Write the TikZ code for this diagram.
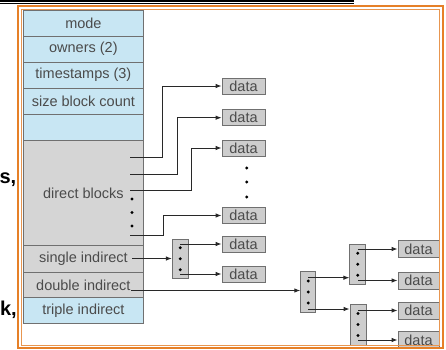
\documentclass[tikz,border=0pt]{standalone}
\usepackage{fontspec}
\setmainfont{Liberation Sans}
\usetikzlibrary{arrows.meta,calc}
\definecolor{frameor}{RGB}{230,128,40}
\definecolor{frameor2}{RGB}{232,150,80}
\definecolor{rowblue}{RGB}{200,230,243}
\definecolor{rowgray}{RGB}{213,213,213}
\definecolor{boxgray}{RGB}{205,205,205}
\definecolor{edgegray}{RGB}{112,112,112}
\definecolor{txtgray}{RGB}{75,75,75}
\definecolor{linegray}{RGB}{40,40,40}
\begin{document}
\begin{tikzpicture}[x=1pt,y=-1pt,
  row/.style={draw=edgegray, line width=0.8pt, minimum width=120pt, inner sep=0pt,
    text=txtgray, font=\fontsize{14.5}{16}\selectfont, anchor=north west},
  databox/.style={draw=edgegray, fill=boxgray, line width=0.8pt, minimum width=43pt,
    minimum height=16pt, inner sep=0pt, text=txtgray, font=\fontsize{14.5}{16}\selectfont},
  idx/.style={draw=edgegray, fill=boxgray, line width=0.8pt, minimum width=16pt,
    minimum height=40pt, inner sep=0pt},
  arr/.style={draw=linegray, line width=0.9pt, -{Latex[length=6pt,width=4.5pt]}},
  dotc/.style={fill=black},
  frag/.style={font=\fontsize{20}{24}\selectfont\bfseries, inner sep=0pt, text=black}]
\useasboundingbox (0,0) rectangle (446,349);
\clip (0,0) rectangle (446,349);
\fill[white] (0,0) rectangle (446,349);

% stray slide fragments
\draw[line width=1.5pt] (0,1) -- (354,1);
\draw[line width=0.8pt] (0,3.4) -- (354,3.4);
\node[frag, anchor=base east] (fs) at (16.5,183.5) {s,};
\node[frag, anchor=base east] (fk) at (17,315) {k,};

% inode table
\node[row, fill=rowblue, minimum height=26pt] (mode) at (23,9.5) {mode};
\node[row, fill=rowblue, minimum height=26pt] (owners) at (23,35.5) {owners (2)};
\node[row, fill=rowblue, minimum height=26pt] (times) at (23,61.5) {timestamps (3)};
\node[row, fill=rowblue, minimum height=26.5pt] (size) at (23,87.5) {size block count};
\node[row, fill=rowblue, minimum height=26pt] (empty) at (23,114) {};
\node[row, fill=rowgray, minimum height=105pt] (direct) at (23,140) {direct blocks};
\node[row, fill=rowgray, minimum height=27pt] (single) at (23,245) {single indirect};
\node[row, fill=rowgray, minimum height=25pt] (double) at (23,272) {double indirect};
\node[row, fill=rowblue, minimum height=26pt] (triple) at (23,297) {triple indirect};

% data blocks
\node[databox] (data1) at (243.5,86) {data};
\node[databox] (data2) at (243.5,117.7) {data};
\node[databox] (data3) at (243.5,148) {data};
\node[databox] (data4) at (243.5,215.5) {data};
\node[databox] (data5) at (243.5,244) {data};
\node[databox] (data6) at (243.5,274) {data};
\node[databox, minimum width=41pt, minimum height=17pt] (dA) at (418.5,249) {data};
\node[databox, minimum width=41pt, minimum height=17pt] (dB) at (418.5,280.5) {data};
\node[databox, minimum width=41pt, minimum height=17pt] (dC) at (418.5,310.5) {data};
\node[databox, minimum width=41pt, minimum height=17pt] (dD) at (418.5,340) {data};

% index blocks
\node[idx, minimum height=39pt] (ib1) at (180.3,258.7) {};
\node[idx, minimum width=15pt, minimum height=40.6pt] (ib2) at (308.2,292) {};
\node[idx] (ib3) at (357.8,264.2) {};
\node[idx, minimum height=41pt] (ib4) at (358,324.5) {};

% dots
\foreach \b in {ib1,ib2,ib3,ib4}{
  \foreach \d in {-11,0,11}{
    \fill[dotc] ($(\b.center)+(0,\d)$) circle (1.6pt);
  }
}
\foreach \yy in {199,212.5,226}{\fill[dotc] (132,\yy) circle (1.6pt);}
\foreach \yy in {168,182,197}{\fill[dotc] (246.7,\yy) circle (1.6pt);}

% direct block pointers
\coordinate (s1) at (130,157);
\coordinate (s2) at (130,174);
\coordinate (s3) at (130,190);
\coordinate (s4) at (130,235.7);
\draw[arr] (s1) -- ++(32.7,0) |- (data1.west);
\draw[arr] (s2) -- ++(47.3,0) |- (data2.west);
\draw[arr] (s3) -- ++(61.7,0) |- (data3.west);
\draw[arr] (s4) -- ++(33.3,0) |- (data4.west);

% single indirect
\coordinate (si) at (132,258.5);
\draw[arr] (si) -- (si -| ib1.west);
\draw[arr] (ib1.center |- data5.west) -- (data5.west);
\draw[arr] (ib1.center |- data6.west) -- (data6.west);

% double indirect
\coordinate (dd) at (131,290.5);
\draw[arr] (dd) -- (dd -| ib2.west);
\coordinate (t23) at ($(ib2.center)+(0,-14.3)$);
\coordinate (t24) at ($(ib2.center)+(0,17)$);
\draw[arr] (t23) -- (t23 -| ib3.west);
\draw[arr] (t24) -- (t24 -| ib4.west);
\draw[arr] (ib3.center |- dA.west) -- (dA.west);
\draw[arr] (ib3.center |- dB.west) -- (dB.west);
\draw[arr] (ib4.center |- dC.west) -- (dC.west);
\draw[arr] (ib4.center |- dD.west) -- (dD.west);

% orange frame
\draw[frameor, line width=2pt] (18,6.3) rectangle (443,347.6);
\draw[frameor2, line width=1pt] (21.3,9.3) rectangle (439.6,345);
\end{tikzpicture}
\end{document}
